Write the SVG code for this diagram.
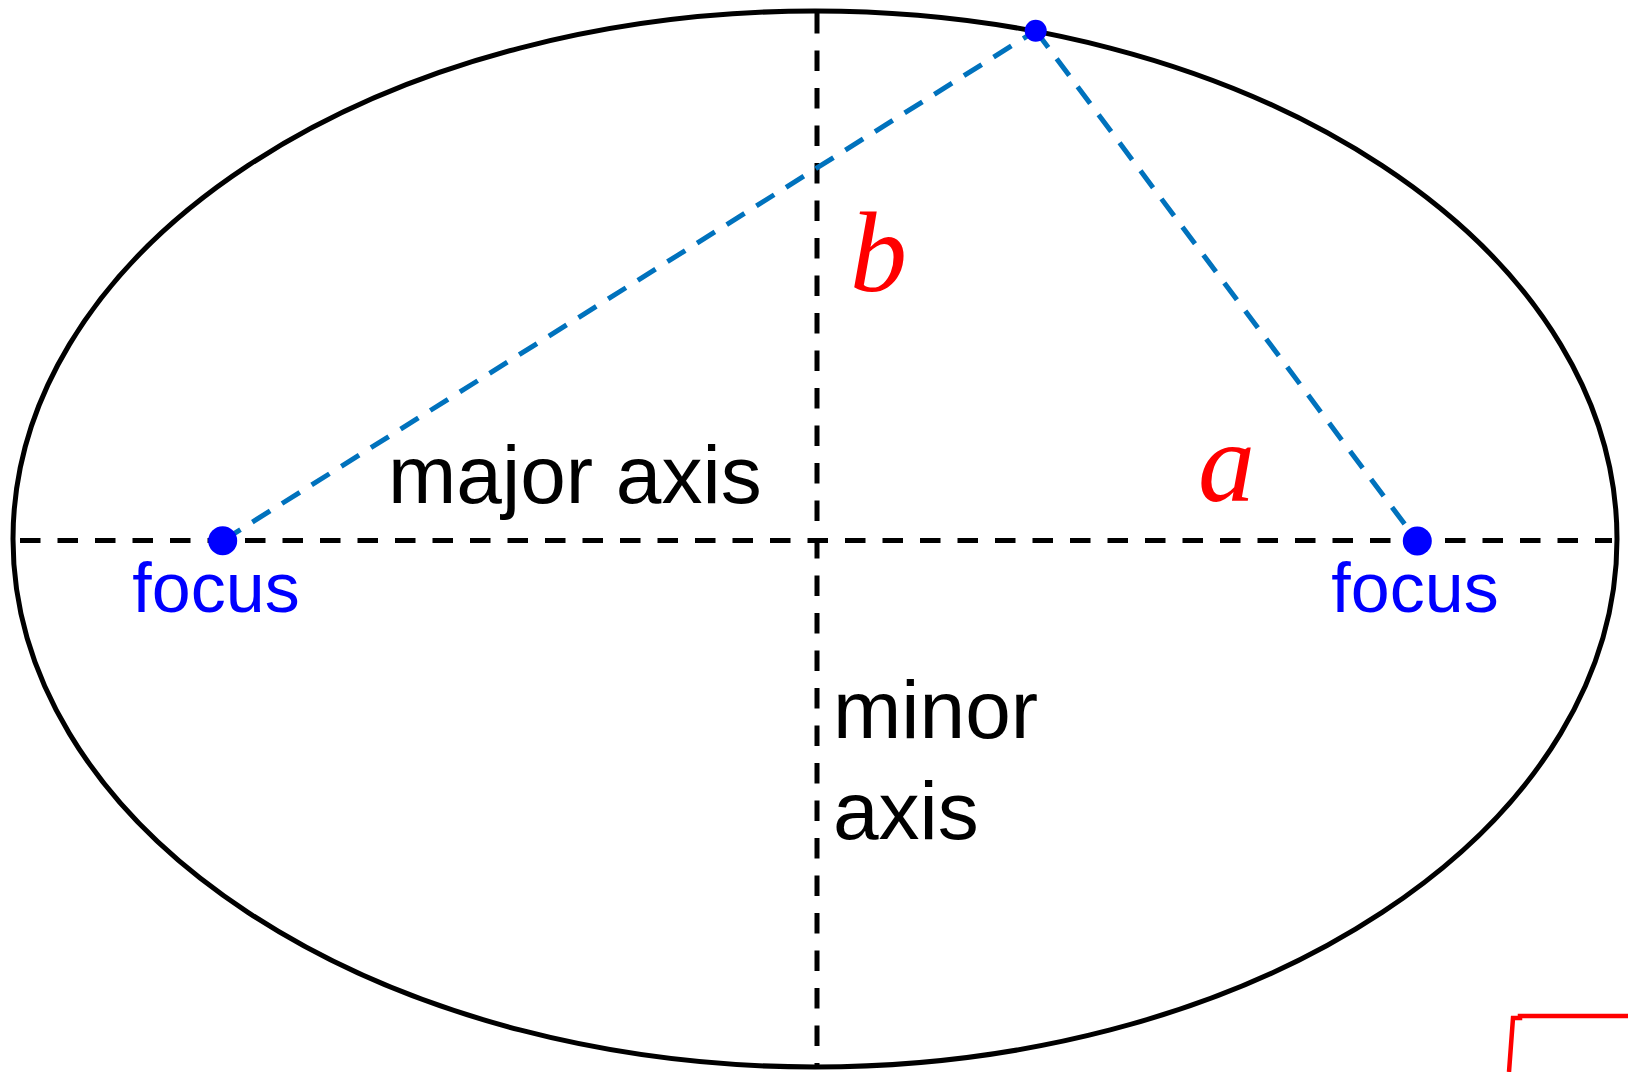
<svg xmlns="http://www.w3.org/2000/svg" width="1628" height="1072" viewBox="0 0 1628 1072">
<style>
.axis{fill:none;stroke:#000;stroke-width:5;stroke-dasharray:20.5 17}
.ray{fill:none;stroke:#0072BD;stroke-width:5;stroke-dasharray:21 14}
.lbl{font-family:"Liberation Sans",Arial,sans-serif;font-size:82px;fill:#000}
.foc{font-family:"Liberation Sans",Arial,sans-serif;font-size:70px;fill:#0000FF;text-anchor:middle}
.var{font-family:"Liberation Serif","Times New Roman",serif;font-style:italic;font-size:114px;fill:#FF0000}
.dot{fill:#0000FF}
</style>
<rect width="1628" height="1072" fill="#fff"/>
<g id="ellipse">
<ellipse cx="815" cy="539" rx="802" ry="528" fill="none" stroke="#000" stroke-width="5"/>
</g>
<g id="connectors">
<line class="axis" x1="20" y1="540.5" x2="1612" y2="540.5"/>
<line class="axis" x1="817" y1="13" x2="817" y2="1066"/>
<line class="ray" x1="222.7" y1="540.7" x2="1035.7" y2="30.7"/>
<line class="ray" x1="1035.7" y1="30.7" x2="1417.3" y2="541"/>
</g>
<g id="point-top"><circle class="dot" cx="1035.7" cy="30.7" r="11"/></g>
<g id="focus-left">
<circle class="dot" cx="222.7" cy="540.7" r="14.5"/>
<text class="foc" x="216" y="611.5">focus</text>
</g>
<g id="focus-right">
<circle class="dot" cx="1417.3" cy="541" r="14.5"/>
<text class="foc" x="1415" y="611.5">focus</text>
</g>
<g id="label-major"><text class="lbl" x="388" y="502.5">major axis</text></g>
<g id="label-minor">
<text class="lbl" x="833" y="738">minor</text>
<text class="lbl" x="833" y="839">axis</text>
</g>
<g id="label-b"><text class="var" x="850" y="291">b</text></g>
<g id="label-a"><text class="var" x="1198" y="501">a</text></g>
<g id="red-mark">
<polyline points="1509,1072 1513,1018 1520,1018 1520,1016 1628,1016" fill="none" stroke="#FF0000" stroke-width="4.5"/>
</g>
</svg>
